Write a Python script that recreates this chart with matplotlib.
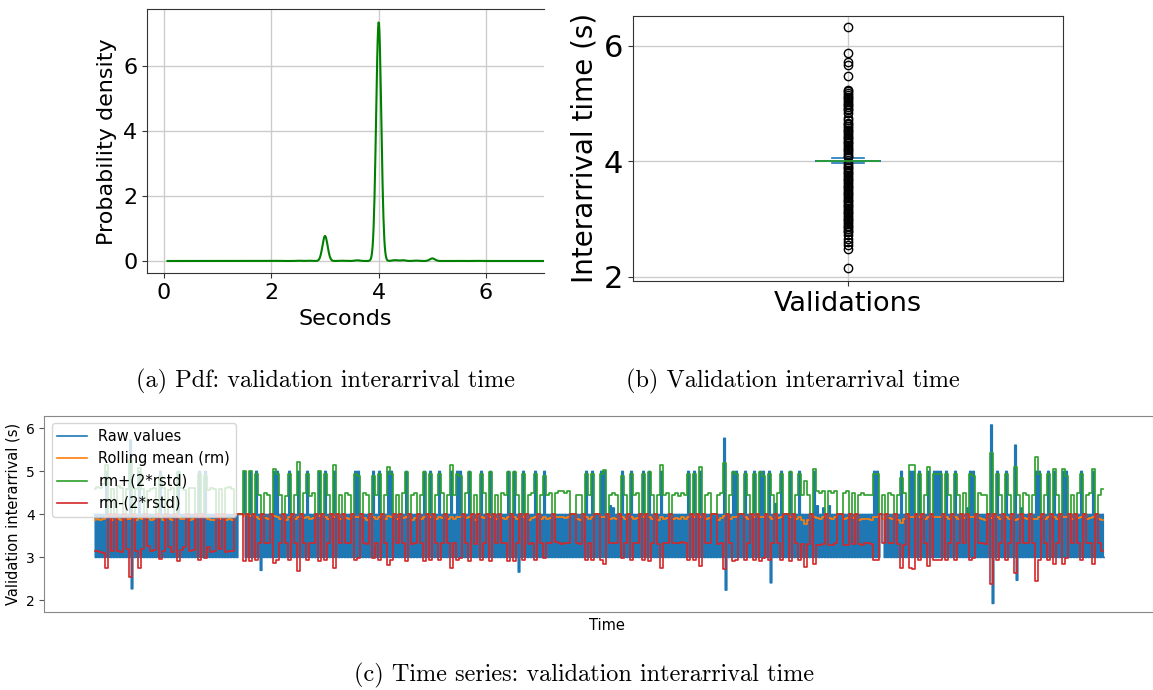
import numpy as np
import matplotlib
matplotlib.use("Agg")
import matplotlib.pyplot as plt

# ---------------- (a) PDF of validation interarrival time ----------------
PDF_VALUES = [2.15, 2.5, 2.7, 3.0, 3.3, 3.6, 4.0, 4.3, 4.45, 4.7, 5.0, 5.5, 5.85, 6.32]
PDF_WEIGHTS = [0.0005, 0.001, 0.001, 0.0926, 0.001, 0.0025, 0.884, 0.003, 0.003,
               0.0015, 0.0096, 0.0005, 0.0005, 0.0003]
PDF_BANDWIDTH = 0.048

# ---------------- (b) Box plot ----------------
BOX_LABEL = "Validations"
BOX_MEDIAN = 4.01
BOX_Q1 = 4.01
BOX_Q3 = 4.01
BOX_WHISKER_LOW = 3.975
BOX_WHISKER_HIGH = 4.065
BOX_FLIERS = [6.32, 5.87, 5.72, 5.66, 5.48, 5.24, 5.21, 5.18, 5.15, 5.12, 5.09, 5.06,
              5.03, 5.0, 4.97, 4.94, 4.91, 4.88, 4.84, 4.75, 4.71, 4.67, 4.64, 4.61,
              4.58, 4.55, 4.52, 4.49, 4.46, 4.43, 4.4, 4.37, 4.34, 4.31, 4.28, 4.25,
              4.22, 4.19, 4.16, 4.13, 4.1, 4.07, 3.97, 3.94, 3.91, 3.88, 3.85, 3.82,
              3.79, 3.76, 3.73, 3.7, 3.67, 3.64, 3.61, 3.58, 3.55, 3.52, 3.49, 3.46,
              3.43, 3.4, 3.37, 3.34, 3.31, 3.28, 3.25, 3.22, 3.19, 3.16, 3.13, 3.1,
              3.07, 3.04, 3.01, 2.98, 2.95, 2.92, 2.89, 2.86, 2.83, 2.8, 2.77, 2.72,
              2.66, 2.6, 2.55, 2.49, 2.16]

# ---------------- (c) Time series ----------------
RAW = [
    4,3,4,3,4,3,4,3,5,3, 4,3,4,3,4,3,4,3,4,3, 4,3,4,3,5.73,2.27,4,3,4,3, 5,3,4,3,4,3,4,3,4,3,
    4,3,4,3,5,3,4,3,4,3, 4,3,4,3,4,3,5,3,4,3, 4,3,4,3,4,3,4,3,4,3, 5,3,4,3,5,3,4,3,4,3,
    4,3,4,3,4,3,4,3,4,3, 4,3,4,3,4,3,4,4,4,4, 5,3,4,3,5,3,4,3,5,3, 4,2.7,4,3,4,3,4,3,4,3,
    5,3,5,3,4,3,4,3,4,3, 5,3,4,3,4,3,5,3,4,3, 4,3,5,3,4,3,4,3,4,3, 5,3,4,3,5,3,4,3,4,3,
    5,3,4,3,4,3,4,3,4,3, 4,3,4,3,5,3,5,3,4,3, 4,3,4,3,4,3,5,3,4,3, 5,3,4,3,4,3,5,3,5,3,
    4,3,4,3,4,3,4,3,5,3, 4,3,4,3,4,3,4,3,4,3, 5,3,4,3,5,3,4,3,4,3, 5,3,4,3,4,3,4,3,5,3,
    4,3,5,3,5,3,4,3,4,3, 5,3,4,3,4,3,4,3,5,3, 4,3,4,3,5,3,4,3,4,3, 4,3,4,3,4,3,5,3,4,3,
    5,3,4,2.66,4,3,5,3,4,3, 4,3,4,3,5,3,4,3,4,3, 5,3,4,3,4,3,4,3,4,3, 4,3,4,3,4,3,4,3,4,3,
    4,3,4,3,4,3,4,3,5,3, 4,3,5,3,4,3,4,3,5,3, 5,3,4,3,4.2,3,4.15,3,4,3, 4,3,5,3,4,3,4,3,5,3,
    4,3,4,3,4,3,5,3,4,3, 5,3,4,3,4,3,4,3,5,3, 4,3,4,3,4,3,4,3,4,3, 4,3,4,3,4,3,5,3,4,3,
    5,3,4,3,5,3,4,3,4,3, 4,3,4,3,4,3,4,3,4,3, 5.77,2.24,4,3,4,3,5,3,5,3, 4,3,4,3,5,3,4,3,4,3,
    5,3,4,3,5,3,5,3,4,3, 5,2.41,4,3,4.25,3,4,3,5,3, 4,3,4,3,5,3,4,3,4,3, 5,3,4,3,4,3,4,3,4,3,
    5,3,4.2,3,4,3,4.15,3,4,3, 4.2,3,4,3,4,3,4,3,4,3, 4,3,4,3,4,3,4,3,4,3, 4,3,4,3,4,3,4,3,4,3,
    5,3,5,3,4,4,4,3,4,3, 4,3,4,3,4,3,4,3,5,3, 4,3,4,3,5,3,5,3,4,3, 5,3,4,3,4,3,5,3,4,3,
    5,3,5,3,5,3,4,3,5,3, 4,3,4,3,5,3,4,3,4,3, 4,3,4.15,3,5,3,5,3,4,3, 4,3,4,3,4,3,4,3,6.08,1.93,
    4,3,5,3,4,3,4,3,5,3, 4,3,4,3,5.61,2.47,4,3,4.15,3, 4,3,4,3,4,3,4,3,5,3, 5,3,4,3,4,3,5,3,4,3,
    5,3,4,3,4,3,5,3,5,3, 4,3,4,3,4,3,4,3,5,3, 4,3,4,3,4,3,5,3,4,3, 4,3,4,3,
]

RM = [
    3.88, 3.9, 3.87, 3.9, 3.95, 4.0, 3.88, 4.0, 3.9, 3.87, 4.0, 3.9, 3.9, 4.0, 3.88, 3.92, 3.9, 4.0, 3.91, 3.88,
    3.9, 4.0, 3.93, 3.88, 4.0, 3.9, 3.87, 4.0, 3.95, 3.89, 3.9, 4.0, 3.88, 3.9, 4.0, 3.95, 4.0, 3.94, 3.9, 3.87,
    3.88, 4.0, 3.9, 4.0, 3.87, 3.9, 3.88, 4.0, 4.0, 4.0, 3.96, 4.0, 3.96, 4.0, 3.95, 3.9, 4.0, 3.92, 3.9, 4.0,
    3.96, 3.95, 3.9, 4.0, 3.88, 3.95, 4.0, 3.9, 3.95, 4.0, 3.92, 3.95, 3.89, 3.92, 4.0, 3.96, 4.0, 3.95, 3.9, 4.0,
    3.95, 4.0, 3.9, 4.0, 3.92, 3.9, 4.0, 3.95, 3.94, 4.0, 3.92, 3.88, 4.0, 3.94, 3.9, 3.95, 4.0, 3.9, 3.96, 3.95,
    4.0, 3.9, 4.0, 3.92, 3.95, 4.0, 3.88, 3.92, 4.0, 3.9, 3.95, 4.0, 3.95, 4.0, 3.9, 3.95, 3.92, 4.0, 3.9, 3.95,
    3.9, 3.95, 3.94, 4.0, 3.92, 3.95, 4.0, 3.88, 4.0, 3.95, 3.92, 4.0, 3.95, 4.0, 3.9, 4.0, 3.92, 3.9, 3.95, 4.0,
    3.95, 3.9, 4.0, 3.95, 4.0, 3.88, 3.92, 3.95, 4.0, 3.9, 3.94, 3.9, 3.92, 4.0, 3.93, 3.94, 3.93, 3.92, 3.94, 4.0,
    4.0, 3.9, 3.88, 4.0, 3.95, 3.9, 3.95, 4.0, 4.0, 3.95, 3.94, 4.0, 3.9, 3.92, 3.9, 4.0, 3.94, 3.9, 4.0, 3.95,
    3.9, 3.92, 4.0, 3.95, 4.0, 3.95, 3.9, 4.0, 3.88, 3.95, 3.9, 3.92, 4.0, 3.9, 3.92, 3.89, 3.93, 3.9, 3.95, 4.0,
    3.95, 4.0, 3.95, 4.0, 3.9, 3.92, 4.0, 4.0, 3.88, 3.92, 3.96, 4.0, 3.9, 3.95, 3.94, 4.0, 4.0, 3.95, 3.9, 4.0,
    3.95, 4.0, 3.95, 3.94, 4.0, 3.95, 3.9, 4.0, 3.92, 3.95, 4.0, 4.0, 3.95, 4.0, 3.9, 3.95, 3.88, 3.78, 3.88, 4.0,
    3.95, 3.92, 3.9, 3.93, 4.0, 3.92, 3.9, 3.94, 4.0, 4.0, 3.9, 3.92, 4.0, 3.91, 4.0, 3.88, 3.9, 3.89, 3.9, 3.88,
    3.95, 3.95, 4.0, 3.9, 4.0, 3.92, 3.9, 4.0, 3.88, 3.8, 3.9, 4.0, 3.95, 3.94, 4.0, 3.95, 4.0, 3.9, 3.95, 4.0,
    3.95, 3.94, 3.95, 4.0, 3.95, 3.9, 4.0, 3.95, 3.9, 4.0, 3.92, 4.0, 3.95, 3.94, 4.0, 3.92, 3.9, 3.88, 4.0, 3.91,
    4.0, 3.95, 3.9, 4.0, 3.95, 3.9, 4.0, 3.87, 3.9, 4.0, 3.92, 3.9, 4.0, 3.9, 3.9, 3.95, 4.0, 3.9, 3.95, 4.0,
    3.95, 3.9, 4.0, 3.95, 3.94, 4.0, 3.9, 4.0, 3.92, 3.95, 4.0, 3.9, 3.92, 3.95, 4.0, 3.9, 3.88,
]

RSTD = [
    0.36, 0.37, 0.37, 0.4, 0.6, 0.0, 0.36, 0.0, 0.38, 0.37, 0.0, 0.35, 0.68, 0.0, 0.36, 0.58, 0.35, 0.0, 0.32, 0.36,
    0.36, 0.0, 0.48, 0.37, 0.0, 0.33, 0.37, 0.0, 0.52, 0.36, 0.33, 0.0, 0.37, 0.36, 0.0, 0.5, 0.0, 0.48, 0.33, 0.37,
    0.36, 0.0, 0.35, 0.0, 0.37, 0.37, 0.36, 0.0, 0.0, 0.0, 0.52, 0.0, 0.52, 0.0, 0.5, 0.28, 0.0, 0.29, 0.28, 0.0,
    0.55, 0.5, 0.28, 0.0, 0.27, 0.5, 0.0, 0.28, 0.63, 0.0, 0.29, 0.5, 0.275, 0.29, 0.0, 0.52, 0.0, 0.5, 0.28, 0.0,
    0.6, 0.0, 0.28, 0.0, 0.29, 0.28, 0.0, 0.5, 0.48, 0.0, 0.29, 0.285, 0.0, 0.48, 0.28, 0.5, 0.0, 0.28, 0.57, 0.5,
    0.0, 0.28, 0.0, 0.29, 0.52, 0.0, 0.285, 0.29, 0.0, 0.28, 0.52, 0.0, 0.5, 0.0, 0.28, 0.5, 0.29, 0.0, 0.28, 0.6,
    0.28, 0.5, 0.48, 0.0, 0.29, 0.52, 0.0, 0.285, 0.0, 0.5, 0.29, 0.0, 0.52, 0.0, 0.28, 0.0, 0.29, 0.28, 0.52, 0.0,
    0.52, 0.28, 0.0, 0.5, 0.0, 0.285, 0.29, 0.5, 0.0, 0.28, 0.48, 0.28, 0.29, 0.0, 0.285, 0.3, 0.31, 0.29, 0.3, 0.0,
    0.0, 0.28, 0.285, 0.0, 0.5, 0.28, 0.5, 0.0, 0.0, 0.5, 0.55, 0.0, 0.28, 0.29, 0.28, 0.0, 0.48, 0.28, 0.0, 0.5,
    0.28, 0.29, 0.0, 0.5, 0.0, 0.52, 0.28, 0.0, 0.285, 0.6, 0.28, 0.29, 0.0, 0.28, 0.29, 0.275, 0.285, 0.28, 0.5, 0.0,
    0.5, 0.0, 0.58, 0.0, 0.28, 0.29, 0.0, 0.0, 0.285, 0.29, 0.62, 0.0, 0.28, 0.52, 0.5, 0.0, 0.0, 0.5, 0.28, 0.0,
    0.5, 0.0, 0.52, 0.48, 0.0, 0.5, 0.28, 0.0, 0.29, 0.5, 0.0, 0.0, 0.52, 0.0, 0.28, 0.5, 0.285, 0.5, 0.285, 0.0,
    0.55, 0.31, 0.3, 0.31, 0.0, 0.31, 0.3, 0.3, 0.0, 0.0, 0.3, 0.31, 0.0, 0.295, 0.0, 0.285, 0.3, 0.28, 0.28, 0.285,
    0.5, 0.5, 0.0, 0.28, 0.0, 0.29, 0.28, 0.0, 0.285, 0.52, 0.3, 0.0, 0.6, 0.6, 0.0, 0.5, 0.0, 0.28, 0.58, 0.0,
    0.5, 0.5, 0.5, 0.0, 0.5, 0.28, 0.0, 0.5, 0.28, 0.0, 0.29, 0.0, 0.5, 0.48, 0.0, 0.29, 0.28, 0.285, 0.0, 0.76,
    0.0, 0.5, 0.28, 0.0, 0.5, 0.28, 0.0, 0.62, 0.28, 0.0, 0.29, 0.28, 0.0, 0.28, 0.72, 0.5, 0.0, 0.28, 0.5, 0.0,
    0.55, 0.28, 0.0, 0.55, 0.48, 0.0, 0.28, 0.0, 0.29, 0.5, 0.0, 0.28, 0.29, 0.55, 0.0, 0.28, 0.36,
]

SERIES_LABELS = ["Raw values", "Rolling mean (rm)", "rm+(2*rstd)", "rm-(2*rstd)"]
CAPTIONS = ["(a) Pdf: validation interarrival time",
            "(b) Validation interarrival time",
            "(c) Time series: validation interarrival time"]

W, H = 1153, 690
fig = plt.figure(figsize=(W / 100, H / 100), dpi=100)


def box(l, t, r, b):
    return [l / W, 1 - b / H, (r - l) / W, (b - t) / H]


GRID = dict(color="#cccccc", linewidth=1.0)

# ---------------- (a) ----------------
ax1 = fig.add_axes(box(147, 9.3, 544, 273.3))
vals = np.array(PDF_VALUES)
w = np.array(PDF_WEIGHTS)
w = w / w.sum()
rng = vals.max() - vals.min()
xs = np.linspace(vals.min() - 0.5 * rng, vals.max() + 0.5 * rng, 1000)
dens = (w[None, :] * np.exp(-0.5 * ((xs[:, None] - vals[None, :]) / PDF_BANDWIDTH) ** 2)
        / (PDF_BANDWIDTH * np.sqrt(2 * np.pi))).sum(axis=1)
ax1.plot(xs, dens, color="green", lw=1.5)
ax1.set_xlim(-0.317, 7.08)
ax1.set_ylim(-0.378, 7.73)
ax1.set_xticks([0, 2, 4, 6])
ax1.set_yticks([0, 2, 4, 6])
ax1.grid(True, **GRID)
ax1.set_axisbelow(True)
ax1.tick_params(labelsize=16, color="#333333")
ax1.set_xlabel("Seconds", fontsize=16)
ax1.set_ylabel("Probability density", fontsize=16)
for s in ax1.spines.values():
    s.set_color("#333333")
ax1.spines["right"].set_visible(False)

# ---------------- (b) ----------------
ax2 = fig.add_axes(box(633, 15.7, 1063, 281))
stats = [dict(med=BOX_MEDIAN, q1=BOX_Q1, q3=BOX_Q3, whislo=BOX_WHISKER_LOW,
              whishi=BOX_WHISKER_HIGH, fliers=BOX_FLIERS, label=BOX_LABEL)]
ax2.bxp(stats, positions=[1], widths=0.15,
        boxprops=dict(color="#1f77b4", lw=1.2),
        whiskerprops=dict(color="#1f77b4", lw=1.2),
        capprops=dict(color="#1f77b4", lw=1.2),
        medianprops=dict(color="#2ca02c", lw=1.2),
        flierprops=dict(marker="o", markerfacecolor="none", markeredgecolor="black",
                        markersize=6, markeredgewidth=1.0))
ax2.set_xlim(0.5, 1.5)
ax2.set_ylim(1.93, 6.52)
ax2.set_yticks([2, 4, 6])
ax2.grid(True, **GRID)
ax2.set_axisbelow(True)
ax2.tick_params(axis="y", labelsize=22, color="#333333")
ax2.tick_params(axis="x", labelsize=19.5, color="#333333")
ax2.set_ylabel("Interarrival time (s)", fontsize=20)
for s in ax2.spines.values():
    s.set_color("#333333")

# ---------------- (c) ----------------
ax3 = fig.add_axes(box(44.3, 416, 1170, 612))
t_raw = np.arange(len(RAW))
t_roll = np.arange(len(RM)) * 2
rm = np.array(RM)
rs = np.array(RSTD)
lw = 1.2
ax3.plot(t_raw, RAW, color="#1f77b4", lw=lw, drawstyle="steps-mid", label=SERIES_LABELS[0])
ax3.plot(t_roll, rm, color="#ff7f0e", lw=lw, drawstyle="steps-mid", label=SERIES_LABELS[1])
ax3.plot(t_roll, rm + 2 * rs, color="#2ca02c", lw=lw, drawstyle="steps-mid", label=SERIES_LABELS[2])
ax3.plot(t_roll, rm - 2 * rs, color="#d62728", lw=lw, drawstyle="steps-mid", label=SERIES_LABELS[3])
ax3.set_xlim(-33.5, 717)
ax3.set_ylim(1.73, 6.29)
ax3.set_yticks([2, 3, 4, 5, 6])
ax3.set_xticks([])
ax3.tick_params(axis="y", labelsize=10, color="#555555")
ax3.set_xlabel("Time", fontsize=10.5)
ax3.set_ylabel("Validation interarrival (s)", fontsize=10.5)
for s in ax3.spines.values():
    s.set_color("#888888")
ax3.legend(loc="upper left", fontsize=10.5)

# ---------------- captions ----------------
cap_font = dict(family="cmr10", fontsize=17.5, ha="center", va="center")
fig.text(325 / W, 1 - 381 / H, CAPTIONS[0], **cap_font)
fig.text(793 / W, 1 - 381 / H, CAPTIONS[1], **cap_font)
fig.text(584 / W, 1 - 675 / H, CAPTIONS[2], **cap_font)

fig.savefig("out.png", dpi=100)
